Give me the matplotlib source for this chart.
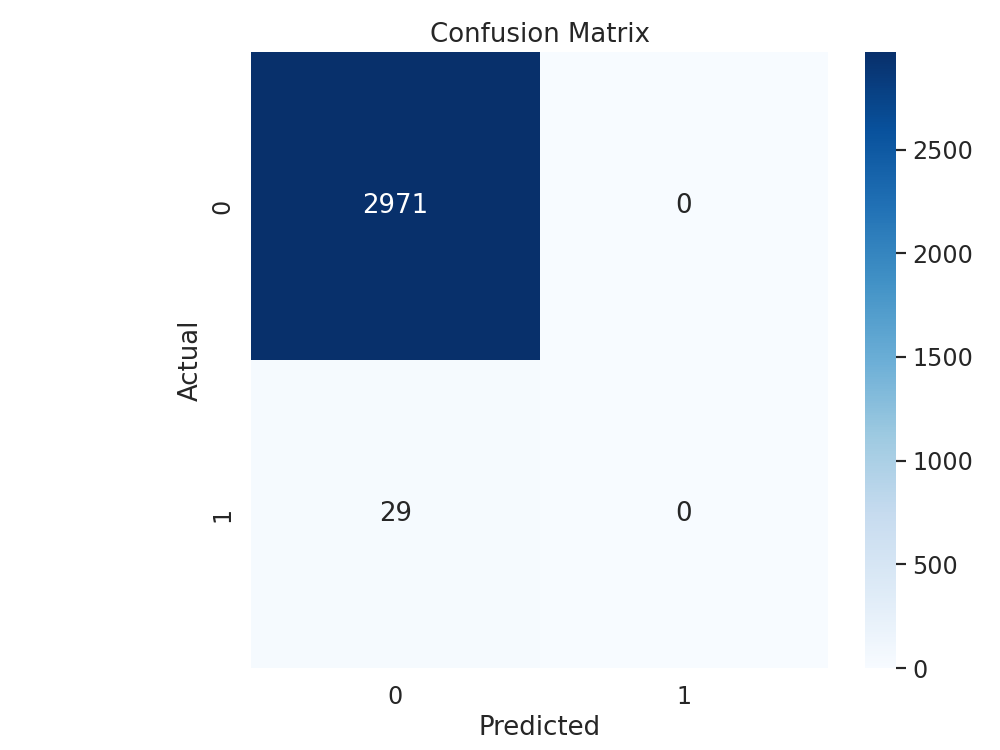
import matplotlib
matplotlib.use("Agg")
import matplotlib.pyplot as plt
import numpy as np
import seaborn as sns

labels = ["0", "1"]
cm = [[2971, 0],
      [29, 0]]

sns.set_theme(font_scale=1.25)

arr = np.array(cm)
fig = plt.figure(figsize=(8, 6), dpi=125)
ax = fig.add_axes([0.251, 0.1093, 0.577, 0.8214])
cax = fig.add_axes([0.865, 0.1093, 0.031, 0.8214])
sns.heatmap(arr, annot=True, fmt="d", cmap="Blues", ax=ax, cbar_ax=cax,
            xticklabels=labels, yticklabels=labels)
ax.set_xlabel("Predicted")
ax.set_ylabel("Actual")
ax.set_title("Confusion Matrix")
fig.savefig("out.png", dpi=125)
plt.close(fig)
